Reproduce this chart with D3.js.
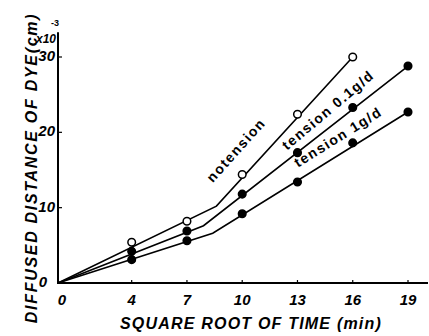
<!DOCTYPE html>
<html>
<head>
<meta charset="utf-8">
<script src="https://cdn.jsdelivr.net/npm/d3@7"></script>
<style>
  html, body { margin: 0; padding: 0; background: #fff; }
  svg { display: block; }
  text { font-family: "Liberation Sans", Arial, sans-serif; fill: #000; }
</style>
</head>
<body>
<svg id="chart" width="429" height="336"></svg>
<script>
// Square root of time (min) at which distances were measured
const timeRoot = [4, 7, 10, 13, 16, 19];
const xTicks = [0, 4, 7, 10, 13, 16, 19];
const yTicks = [0, 10, 20, 30];

// Diffused distance of dye (x10^-3 cm)
const noTension = [5.4, 8.2, 14.4, 22.4, 30.0];
const tension01 = [4.2, 6.9, 11.8, 17.3, 23.3, 28.8];
const tension1 = [3.1, 5.6, 9.2, 13.4, 18.6, 22.7];

// Broken-line fits: [sqrt time, distance] vertices
const noTensionFit = [[0, 0], [8.6, 10.2], [16, 30.0]];
const tension01Fit = [[0, 0], [7.9, 7.6], [19, 28.8]];
const tension1Fit = [[0, 0], [8.4, 6.6], [19, 22.7]];

const svg = d3.select("#chart");
const x = d3.scaleLinear().domain([0, 19]).range([58, 408]);
const y = d3.scaleLinear().domain([0, 30]).range([283, 57]);

// axes
svg.append("line").attr("x1", x(0)).attr("x2", 428).attr("y1", y(0)).attr("y2", y(0))
  .attr("stroke", "#000").attr("stroke-width", 2);
svg.append("line").attr("x1", x(0)).attr("x2", x(0)).attr("y1", y(0) + 1).attr("y2", y(33.3))
  .attr("stroke", "#000").attr("stroke-width", 2);

svg.selectAll(".yt").data(yTicks.slice(1)).join("line")
  .attr("x1", x(0)).attr("x2", x(0) + 4)
  .attr("y1", d => y(d)).attr("y2", d => y(d))
  .attr("stroke", "#000").attr("stroke-width", 1.2);
svg.selectAll(".xt").data(xTicks.slice(1)).join("line")
  .attr("x1", d => x(d)).attr("x2", d => x(d))
  .attr("y1", y(0)).attr("y2", y(0) - 3)
  .attr("stroke", "#000").attr("stroke-width", 1.2);

const tickFont = "bold italic 15px 'Liberation Sans', Arial, sans-serif";
svg.selectAll(".xl").data(xTicks).join("text")
  .attr("x", d => x(d) + (d === 0 ? 4 : 0))
  .attr("y", y(0) + 22)
  .attr("text-anchor", "middle")
  .style("font", tickFont)
  .text(d => d);
svg.selectAll(".yl").data(yTicks).join("text")
  .attr("x", d => x(0) - (d === 0 ? 11 : 3))
  .attr("y", d => y(d) + 4)
  .attr("text-anchor", "end")
  .style("font", tickFont)
  .text(d => d);

// scale multiplier
svg.append("text").attr("x", 56).attr("y", 43).attr("text-anchor", "end")
  .style("font", "bold italic 12px 'Liberation Sans', Arial, sans-serif").text("x10");
svg.append("text").attr("x", 51).attr("y", 26)
  .style("font", "bold 9px 'Liberation Sans', Arial, sans-serif").text("-3");

// axis titles
svg.append("text")
  .attr("x", 251).attr("y", 329)
  .attr("text-anchor", "middle")
  .style("font", "bold italic 16px 'Liberation Sans', Arial, sans-serif")
  .style("letter-spacing", "1.2px")
  .text("SQUARE  ROOT  OF  TIME  (min)");
svg.append("text")
  .attr("transform", "translate(37,168) rotate(-90)")
  .attr("text-anchor", "middle")
  .style("font", "bold italic 16px 'Liberation Sans', Arial, sans-serif")
  .style("letter-spacing", "1.7px")
  .text("DIFFUSED  DISTANCE  OF  DYE(cm)");

// fitted broken lines
const line = d3.line().x(d => x(d[0])).y(d => y(d[1]));
[noTensionFit, tension01Fit, tension1Fit].forEach(f => {
  svg.append("path").attr("d", line(f)).attr("fill", "none")
    .attr("stroke", "#000").attr("stroke-width", 1.6);
});

// measured points
const pts = (vals, filled) => {
  svg.append("g").selectAll("circle").data(vals).join("circle")
    .attr("cx", (d, i) => x(timeRoot[i]))
    .attr("cy", d => y(d))
    .attr("r", 3.8)
    .attr("fill", filled ? "#000" : "#fff")
    .attr("stroke", "#000").attr("stroke-width", 1.5);
};
pts(tension1, true);
pts(tension01, true);
pts(noTension, false);

// curve labels, set along each line
const lab = (txt, cx, cy, ang) => {
  svg.append("text")
    .attr("transform", `translate(${cx},${cy}) rotate(${ang})`)
    .attr("text-anchor", "middle")
    .attr("dy", "0.35em")
    .style("font", "bold 14px 'Liberation Sans', Arial, sans-serif")
    .style("letter-spacing", "1.5px")
    .text(txt);
};
lab("notension", 236, 150, -48);
lab("tension  0.1g/d", 328, 110, -40);
lab("tension  1g/d", 338, 137, -32);
</script>
</body>
</html>
